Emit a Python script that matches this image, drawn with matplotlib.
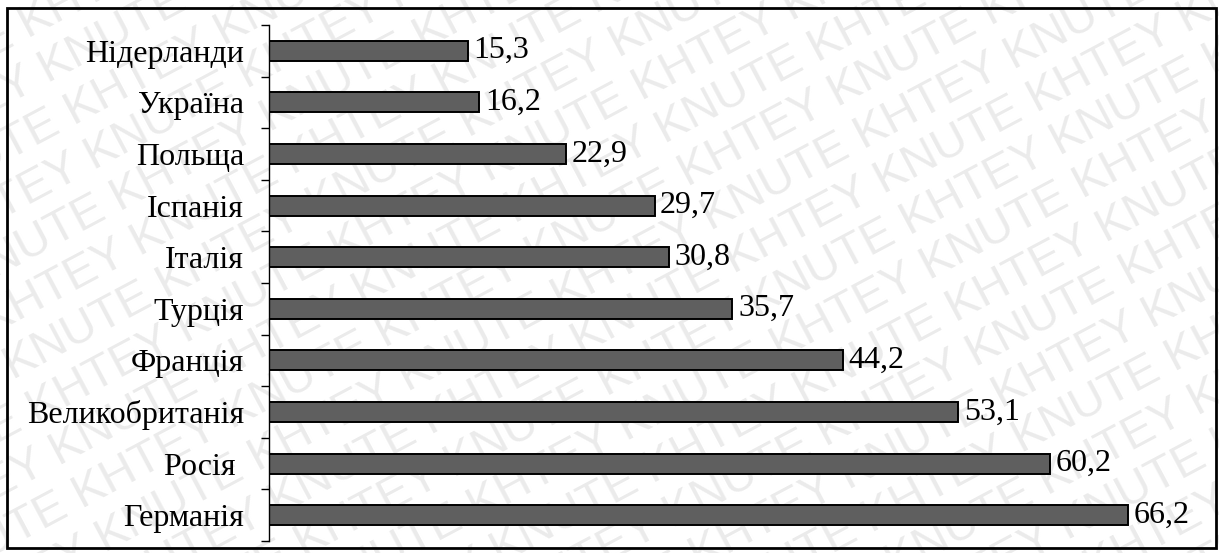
import numpy as np
import matplotlib.pyplot as plt
from matplotlib.patches import Rectangle
from matplotlib.ticker import FixedLocator, NullLocator

plt.rcParams['font.family'] = ['Liberation Serif', 'DejaVu Serif']

# країни знизу вгору
kraini = ["Германія", "Росія ", "Великобританія", "Франція", "Турція",
          "Італія", "Іспанія", "Польща", "Україна", "Нідерланди"]
znachennia = [66.2, 60.2, 53.1, 44.2, 35.7, 30.8, 29.7, 22.9, 16.2, 15.3]

W, H = 1219, 553
fig = plt.figure(figsize=(W / 100, H / 100), dpi=100)
fig.patch.set_facecolor("white")

# водяний знак: похилі рядки слів
kut = 28
u = np.array([np.cos(np.radians(kut)), np.sin(np.radians(kut))])
n = np.array([-u[1], u[0]])
slova = ["KHTEY KNUTE " * 8, "KNUTE KHTEY " * 8]
for i in range(-14, 14):
    p = i * 49 * n - 250 * u
    fig.text(p[0] / W, p[1] / H, slova[i % 2], rotation=kut,
             rotation_mode="anchor", ha="left", va="baseline", fontsize=34,
             color="#ebebeb", family="Liberation Sans", zorder=-5)

# рамка
fig.patches.append(Rectangle((7 / W, 1 - 548 / H), (1216 - 7) / W, (548 - 8) / H,
                             transform=fig.transFigure, fill=False,
                             edgecolor="black", linewidth=2, zorder=1))

ax = fig.add_axes([269 / W, 12 / H, 921.6 / W, 516 / H])
ax.patch.set_alpha(0)

y = list(range(len(kraini)))
ax.barh(y, znachennia, height=0.39, color="#5f5f5f", edgecolor="black",
        linewidth=1.4)
for yi, v in zip(y, znachennia):
    ax.annotate(f"{v:.1f}".replace(".", ","), (v, yi), xytext=(4, 0),
                textcoords="offset points", ha="left", va="center",
                fontsize=23)

ax.set_xlim(0, 71)
ax.set_ylim(-0.5, len(kraini) - 0.5)
ax.set_yticks(y)
ax.set_yticklabels(kraini, fontsize=23)
ax.yaxis.set_minor_locator(FixedLocator([i - 0.5 for i in range(len(kraini) + 1)]))
ax.tick_params(axis="y", which="major", length=0, pad=18)
ax.tick_params(axis="y", which="minor", length=6, width=1, color="black")
ax.xaxis.set_major_locator(NullLocator())
for s in ["top", "right", "bottom"]:
    ax.spines[s].set_visible(False)
ax.spines["left"].set_linewidth(1)

fig.savefig("out.png", dpi=100)
